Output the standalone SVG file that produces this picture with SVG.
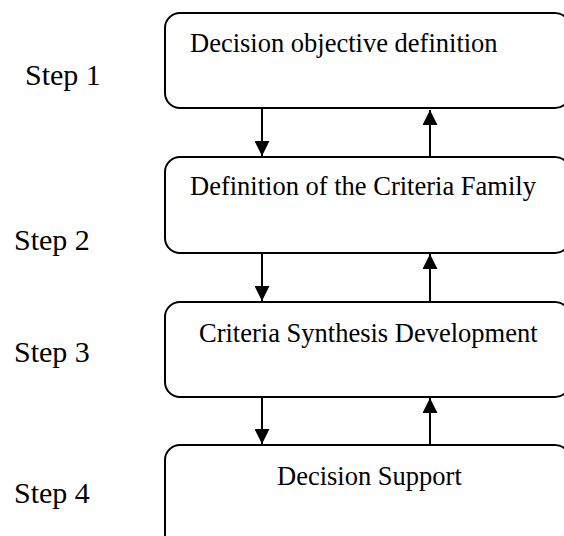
<svg xmlns="http://www.w3.org/2000/svg" width="564" height="536" viewBox="0 0 564 536">
<style>
.box{fill:#fff;stroke:#000;stroke-width:2}
.t{font-family:"Liberation Serif","Times New Roman",serif;font-size:26.5px;fill:#000}
.s{font-family:"Liberation Serif","Times New Roman",serif;font-size:30px;fill:#000}
.c{stroke:#000;stroke-width:2;fill:none;marker-end:url(#ah)}
</style>
<defs>
<marker id="ah" markerUnits="userSpaceOnUse" markerWidth="15" markerHeight="15" refX="15" refY="7.5" orient="auto" viewBox="0 0 15 15">
<path d="M0,0 L15,7.5 L0,15 z" fill="#000"/>
</marker>
</defs>
<rect width="564" height="536" fill="#fff"/>
<g id="step-labels">
<text class="s" x="25" y="85">Step 1</text>
<text class="s" x="14" y="250">Step 2</text>
<text class="s" x="14" y="362">Step 3</text>
<text class="s" x="14" y="503">Step 4</text>
</g>
<g id="node1">
<rect class="box" x="165" y="13" width="405" height="95" rx="15" ry="15"/>
<text class="t" x="190" y="52">Decision objective definition</text>
</g>
<g id="node2">
<rect class="box" x="165" y="157" width="405" height="96" rx="15" ry="15"/>
<text class="t" x="190" y="195">Definition of the Criteria Family</text>
</g>
<g id="node3">
<rect class="box" x="165" y="302" width="405" height="95" rx="15" ry="15"/>
<text class="t" x="199" y="342">Criteria Synthesis Development</text>
</g>
<g id="node4">
<rect class="box" x="165" y="445" width="405" height="110" rx="15" ry="15"/>
<text class="t" x="277" y="485">Decision Support</text>
</g>
<g id="connectors">
<line class="c" x1="262" y1="108" x2="262" y2="156"/>
<line class="c" x1="430" y1="157" x2="430" y2="110"/>
<line class="c" x1="262" y1="253" x2="262" y2="301"/>
<line class="c" x1="430" y1="302" x2="430" y2="254"/>
<line class="c" x1="262" y1="397" x2="262" y2="444"/>
<line class="c" x1="430" y1="445" x2="430" y2="398"/>
</g>
</svg>
